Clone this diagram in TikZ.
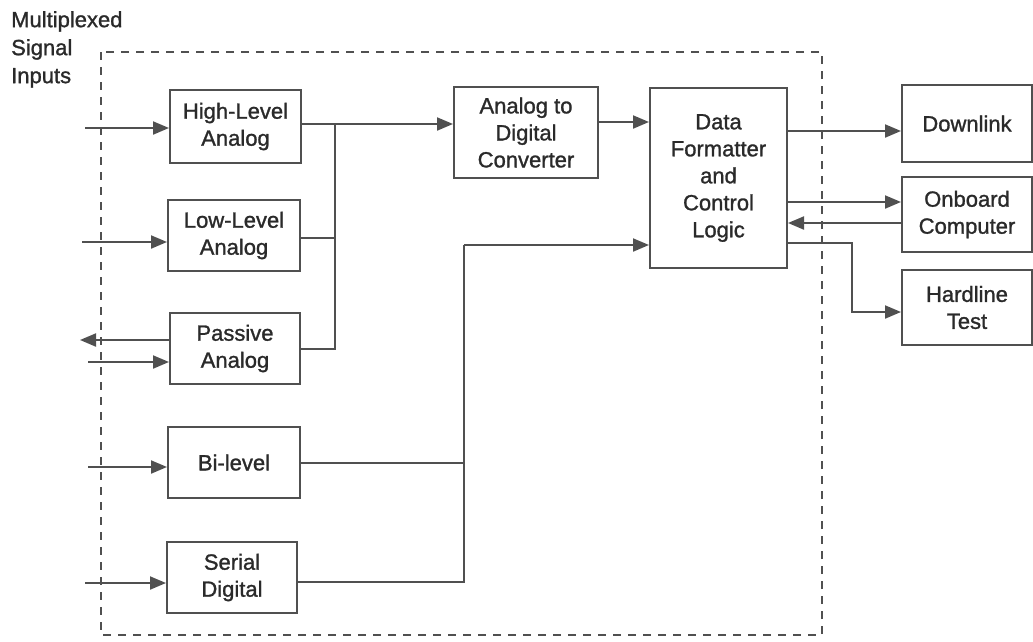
\documentclass[tikz,border=0pt]{standalone}
\usepackage{fontspec}
\setmainfont{Liberation Sans}[FakeBold=1.2]
\usetikzlibrary{arrows.meta,calc}
\definecolor{ink}{HTML}{2A2A2A}
\definecolor{wire}{HTML}{505050}
\begin{document}
\begin{tikzpicture}[x=1pt,y=-1pt,
  blk/.style={draw=wire,line width=2pt,fill=white,align=center,text=ink,inner sep=0pt,
    font=\fontsize{22}{27}\selectfont},
  wirel/.style={draw=wire,line width=2pt},
  arr/.style={wirel,-{Triangle[length=16pt,width=13pt]}},
  bound/.style={draw=wire,line width=2pt,dash pattern=on 8pt off 7pt}]
\useasboundingbox (0,0) rectangle (1033,641);
\fill[white] (0,0) rectangle (1033,641);
% boundary
\draw[bound] (101,52) rectangle (822,635);
% title
\node[anchor=north west,align=left,text=ink,inner sep=0pt,font=\fontsize{22}{28}\selectfont] (title) at (11,11) {Multiplexed\\Signal\\Inputs};
% blocks
\node[blk,minimum width=131pt,minimum height=73pt] (HL) at (235.5,126.5) {High-Level\\Analog};
\node[blk,minimum width=132pt,minimum height=71pt] (LL) at (234,235.5) {Low-Level\\Analog};
\node[blk,minimum width=130pt,minimum height=71pt] (PA) at (235,348.5) {Passive\\Analog};
\node[blk,minimum width=132pt,minimum height=71pt] (BL) at (234,462.5) {Bi-level};
\node[blk,minimum width=130pt,minimum height=71pt] (SD) at (232,577.5) {Serial\\Digital};
\node[blk,minimum width=144pt,minimum height=91pt] (ADC) at (526,132.5) {Analog to\\Digital\\Converter};
\node[blk,minimum width=137pt,minimum height=180pt] (DF) at (718.5,178) {Data\\Formatter\\and\\Control\\Logic};
\node[blk,minimum width=130pt,minimum height=77pt] (DL) at (967,123.5) {Downlink};
\node[blk,minimum width=130pt,minimum height=75pt] (OC) at (967,214.5) {Onboard\\Computer};
\node[blk,minimum width=130pt,minimum height=75pt] (HT) at (967,307.5) {Hardline\\Test};
% input free ends
\coordinate (i1) at (85,128);
\coordinate (i2) at (82,242);
\coordinate (o3) at (80,340);
\coordinate (i3) at (88,362);
\coordinate (i4) at (88,467);
\coordinate (i5) at (85,583);
\draw[arr] (i1) -- (i1 -| HL.west);
\draw[arr] (i2) -- (i2 -| LL.west);
\draw[arr] (o3 -| PA.west) -- (o3);
\draw[arr] (i3) -- (i3 -| PA.west);
\draw[arr] (i4) -- (i4 -| BL.west);
\draw[arr] (i5) -- (i5 -| SD.west);
% analog bus
\coordinate (bus) at (335,124);
\draw[arr] (bus -| HL.east) -- (bus -| ADC.west);
\draw[wirel] ($(LL.east)+(0,2)$) -| (bus);
\draw[wirel] (PA.east) -| (bus);
% ADC to DF
\coordinate (a2d) at (0,122);
\draw[arr] (a2d -| ADC.east) -- (a2d -| DF.west);
% digital bus
\coordinate (dbus) at (464,245);
\draw[wirel] (BL.east) -| (dbus);
\draw[wirel] ($(SD.east)+(0,4.5)$) -| (dbus);
\draw[arr] (dbus) -- (dbus -| DF.west);
% outputs
\coordinate (y1) at (0,131);
\coordinate (y2) at (0,202);
\coordinate (y3) at (0,223);
\coordinate (y4) at (0,243);
\coordinate (y5) at (852,312);
\draw[arr] (y1 -| DF.east) -- (y1 -| DL.west);
\draw[arr] (y2 -| DF.east) -- (y2 -| OC.west);
\draw[arr] (y3 -| OC.west) -- (y3 -| DF.east);
\draw[arr] (y4 -| DF.east) -| (y5) -- (y5 -| HT.west);
\end{tikzpicture}
\end{document}
